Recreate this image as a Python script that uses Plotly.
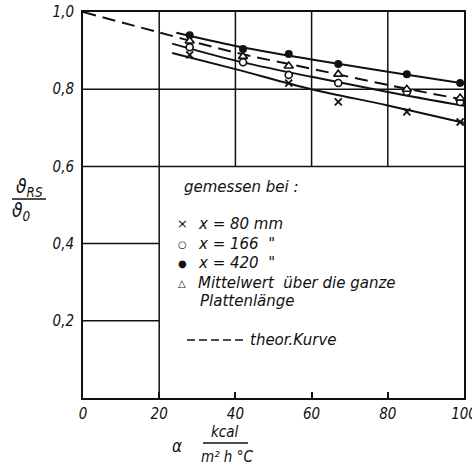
import plotly.graph_objects as go

# Heat-transfer coefficient α in kcal/(m² h °C) at which the plate was measured
alpha = [28, 42, 54, 67, 85, 99]

# Measured temperature ratio ϑ_RS/ϑ_0 at three positions and the plate mean
ratio_x80 = [0.889, None, 0.816, 0.767, 0.741, 0.715]
ratio_x166 = [0.909, 0.870, 0.837, 0.816, 0.793, 0.767]
ratio_x420 = [0.940, 0.904, 0.891, 0.865, 0.839, 0.816]
ratio_mean = [0.925, 0.885, 0.860, 0.839, 0.800, 0.777]

# Curves drawn through the measured points
fit_x80_alpha = [23.4, 40, 60, 80, 100]
fit_x80 = [0.894, 0.852, 0.800, 0.758, 0.713]
fit_x166_alpha = [23.4, 40, 60, 80, 100]
fit_x166 = [0.918, 0.874, 0.832, 0.793, 0.757]
fit_x420_alpha = [24.5, 40, 60, 80, 100]
fit_x420 = [0.946, 0.912, 0.877, 0.845, 0.815]

# Theoretical curve
theo_alpha = [0, 20, 40, 60, 80, 100, 102]
theo_ratio = [1.0, 0.947, 0.895, 0.853, 0.811, 0.773, 0.770]

# Axis ticks
x_ticks = [0, 20, 40, 60, 80, 100]
x_labels = ["0", "20", "40", "60", "80", "100"]
y_ticks = [0.2, 0.4, 0.6, 0.8, 1.0]
y_labels = ["0,2", "0,4", "0,6", "0,8", "1,0"]

# Corner of the legend panel inside the grid
panel_x = 20
panel_y = 0.6

FONT = "DejaVu Sans Condensed, Liberation Sans Narrow, DejaVu Sans, sans-serif"
TEXT_FONT = "DejaVu Sans, sans-serif"
INK = "#111111"

# plot-area geometry in pixels (used to place the free text)
W, H = 472, 469
L, R, T, B = 83, 8, 12, 71
PW, PH = W - L - R, H - T - B


def px(x):
    return (x - L) / PW


def py(y):
    return (H - B - y) / PH


fig = go.Figure()

line_style = dict(color=INK, width=2)
for xs, ys in [(fit_x420_alpha, fit_x420), (fit_x166_alpha, fit_x166), (fit_x80_alpha, fit_x80)]:
    fig.add_trace(go.Scatter(x=xs, y=ys, mode="lines", line=dict(line_style, shape="spline"),
                             showlegend=False, hoverinfo="skip"))

fig.add_trace(go.Scatter(x=theo_alpha, y=theo_ratio, mode="lines",
                         line=dict(color=INK, width=2, dash="13px,7px", shape="spline"),
                         showlegend=False))

fig.add_trace(go.Scatter(x=alpha, y=ratio_x80, mode="markers", showlegend=False,
                         marker=dict(symbol="x-thin-open", size=7, color=INK,
                                     line=dict(color=INK, width=1.8))))
fig.add_trace(go.Scatter(x=alpha, y=ratio_x166, mode="markers", showlegend=False,
                         marker=dict(symbol="circle", size=7, color="white",
                                     line=dict(color=INK, width=1.6))))
fig.add_trace(go.Scatter(x=alpha, y=ratio_x420, mode="markers", showlegend=False,
                         marker=dict(symbol="circle", size=8, color=INK, line=dict(width=0))))
fig.add_trace(go.Scatter(x=alpha, y=ratio_mean, mode="markers", showlegend=False,
                         marker=dict(symbol="triangle-up", size=8, color="white",
                                     line=dict(color=INK, width=1.6))))

# partial grid: full lines above the legend panel, short ones to its left
grid = dict(color=INK, width=1.5)
shapes = []
for xv in x_ticks[1:-1]:
    y0 = 0 if xv <= panel_x else panel_y
    shapes.append(dict(type="line", xref="x", yref="y", x0=xv, x1=xv, y0=y0, y1=1.0,
                       line=grid, layer="below"))
for yv in y_ticks[:-1]:
    x1 = 100 if yv >= panel_y else panel_x
    shapes.append(dict(type="line", xref="x", yref="y", x0=0, x1=x1, y0=yv, y1=yv,
                       line=grid, layer="below"))

# fraction bars of the axis titles and the dash sample of the legend
shapes.append(dict(type="line", xref="paper", yref="paper", x0=px(12), x1=px(46),
                   y0=py(199), y1=py(199), line=dict(color=INK, width=1.5)))
shapes.append(dict(type="line", xref="paper", yref="paper", x0=px(203), x1=px(248),
                   y0=py(443), y1=py(443), line=dict(color=INK, width=1.5)))
shapes.append(dict(type="line", xref="paper", yref="paper", x0=px(187), x1=px(246),
                   y0=py(340), y1=py(340), line=dict(color=INK, width=1.6, dash="8px,4px")))

ann = []


def text(x, y, s, size=15, anchor="left", italic=True, family=TEXT_FONT):
    ann.append(dict(xref="paper", yref="paper", x=px(x), y=py(y), text=s, showarrow=False,
                    xanchor=anchor, yanchor="middle",
                    font=dict(family=family, size=size, color=INK,
                              style="italic" if italic else "normal")))


text(182, 187, "gemessen bei :")
text(182, 224, "×", size=13, anchor="center", italic=False)
text(182, 244, "○", size=10, anchor="center", italic=False)
text(182, 263, "●", size=10, anchor="center", italic=False)
text(182, 283, "△", size=10, anchor="center", italic=False)
text(196, 224, "x = 80 mm")
text(196, 244, "x = 166  \"")
text(196, 263, "x = 420  \"")
text(196, 283, "Mittelwert  über die ganze")
text(198, 301, "Plattenlänge")
text(248, 340, "theor.Kurve")

# y axis title ϑ_RS / ϑ_0
text(30, 188, "ϑ<sub>RS</sub>", size=19, anchor="center", family=FONT)
text(22, 211, "ϑ<sub>0</sub>", size=19, anchor="center", family=FONT)

# x axis title α kcal / (m² h °C)
text(177, 446, "α", size=17, anchor="center", family=FONT)
text(225, 432, "kcal", size=15, anchor="center", family=FONT)
text(227, 457, "m² h °C", size=15, anchor="center", family=FONT)

fig.update_layout(
    width=W, height=H,
    margin=dict(l=L, r=R, t=T, b=B, autoexpand=False),
    paper_bgcolor="white", plot_bgcolor="white",
    shapes=shapes, annotations=ann,
    xaxis=dict(range=[0, 100], tickvals=x_ticks, ticktext=x_labels, showgrid=False,
               zeroline=False, showline=True, mirror=True, linecolor=INK, linewidth=2,
               ticks="inside", ticklen=6, tickwidth=1.5, tickcolor=INK,
               ticklabelstandoff=1, ticklabeloverflow="allow", automargin=False,
               tickfont=dict(family=FONT, size=15, color=INK, style="italic")),
    yaxis=dict(range=[0, 1.0], tickvals=y_ticks, ticktext=y_labels, showgrid=False,
               zeroline=False, showline=True, mirror=True, linecolor=INK, linewidth=2,
               ticks="", ticklabelstandoff=4, automargin=False,
               tickfont=dict(family=FONT, size=15, color=INK, style="italic")),
)

fig.write_html("out.html")
